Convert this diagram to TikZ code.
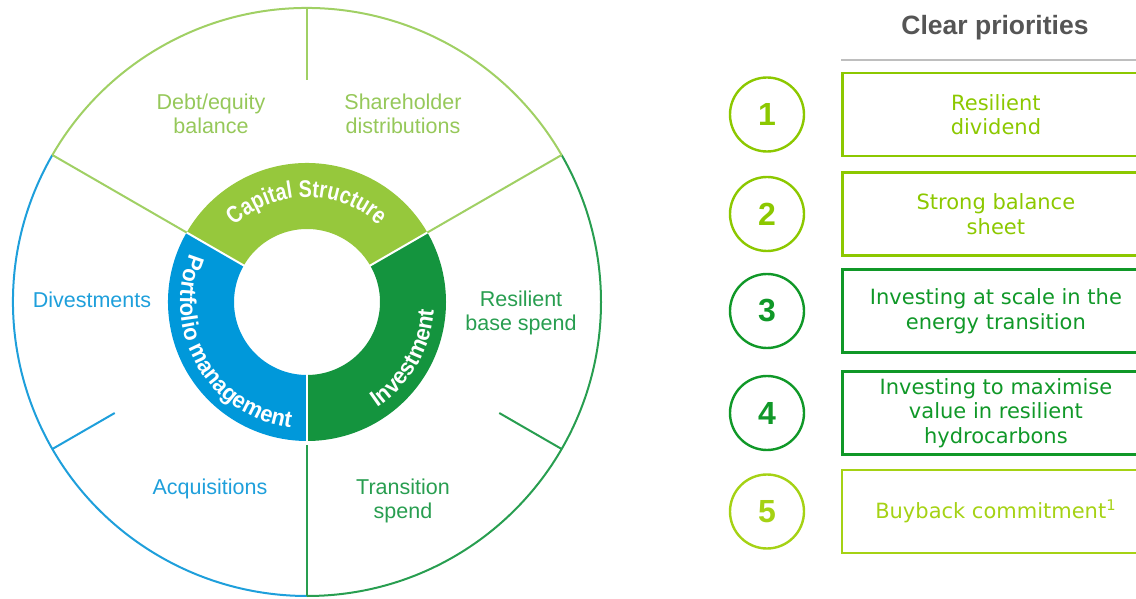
\documentclass[tikz,border=0pt]{standalone}
\usepackage{fontspec}
\setmainfont{Liberation Sans}
\newfontfamily\boxfont{DejaVu Sans}
\newfontfamily\donutfont{Liberation Sans}[FakeStretch=0.82]
\newfontfamily\donutwide{Liberation Sans}[FakeStretch=0.96]
\usetikzlibrary{decorations.text}
\definecolor{ringlg}{RGB}{160,208,100}
\definecolor{ringbl}{RGB}{30,159,219}
\definecolor{ringdg}{RGB}{40,158,80}
\definecolor{lbllg}{RGB}{150,200,90}
\definecolor{capfill}{RGB}{150,200,60}
\definecolor{pmfill}{RGB}{0,152,218}
\definecolor{invfill}{RGB}{20,148,62}
\definecolor{lime}{RGB}{140,200,0}
\definecolor{prgreen}{RGB}{16,152,40}
\definecolor{lime5}{RGB}{165,210,20}
\definecolor{titlegray}{RGB}{85,85,85}
\definecolor{rulegray}{RGB}{190,190,190}
\tikzset{
  ring/.style={line width=2pt},
  sep/.style={white, line width=2pt},
  lbl/.style={align=center, inner sep=0pt, font=\fontsize{21.5}{24}\selectfont},
  prio/.style={draw, line width=2.8pt, minimum width=307pt, minimum height=83pt,
    anchor=west, align=center, inner sep=0pt, font=\boxfont\fontsize{21}{24.5}\selectfont},
  num/.style={circle, draw, line width=2.4pt, minimum size=74pt, inner sep=0pt,
    font=\bfseries\fontsize{32}{32}\selectfont}
}
\begin{document}
\begin{tikzpicture}[x=1pt,y=1pt]
\useasboundingbox (0,0) rectangle (1136,598);
\clip (0,0) rectangle (1136,598);

\begin{scope}[shift={(307,296)}]
  % donut segments
  \fill[capfill] (30:139) arc[start angle=30,end angle=150,radius=139]
     -- (150:73) arc[start angle=150,end angle=30,radius=73] -- cycle;
  \fill[pmfill] (150:139) arc[start angle=150,end angle=270,radius=139]
     -- (270:73) arc[start angle=270,end angle=150,radius=73] -- cycle;
  \fill[invfill] (270:139) arc[start angle=270,end angle=390,radius=139]
     -- (30:73) arc[start angle=390,end angle=270,radius=73] -- cycle;
  \coordinate (s30a) at (30:72);  \coordinate (s30b) at (30:140);
  \coordinate (s150a) at (150:72); \coordinate (s150b) at (150:140);
  \coordinate (s270a) at (270:72); \coordinate (s270b) at (270:140);
  \draw[sep] (s30a) -- (s30b);
  \draw[sep] (s150a) -- (s150b);
  \draw[sep] (s270a) -- (s270b);

  % outer ring
  \draw[ring, ringlg] (30:294) arc[start angle=30,end angle=150,radius=294];
  \draw[ring, ringbl] (150:294) arc[start angle=150,end angle=270,radius=294];
  \draw[ring, ringdg] (270:294) arc[start angle=270,end angle=390,radius=294];

  % radial lines
  \coordinate (i30) at (30:139);   \coordinate (o30) at (30:294);
  \coordinate (i150) at (150:139); \coordinate (o150) at (150:294);
  \coordinate (i270) at (270:143); \coordinate (o270) at (270:294);
  \coordinate (t90) at (90:222);   \coordinate (o90) at (90:294);
  \coordinate (t210) at (210:222); \coordinate (o210) at (210:294);
  \coordinate (t330) at (330:222); \coordinate (o330) at (330:294);
  \draw[ring, ringlg] (i30) -- (o30);
  \draw[ring, ringlg] (i150) -- (o150);
  \draw[ring, ringdg] (i270) -- (o270);
  \draw[ring, ringlg] (t90) -- (o90);
  \draw[ring, ringbl] (t210) -- (o210);
  \draw[ring, ringdg] (t330) -- (o330);

  % donut text
  \path[decorate, decoration={text along path, text align=center, text color=white,
     text={|\donutfont\bfseries\fontsize{24}{28}\selectfont|Capital Structure}}]
     (150:105) arc[start angle=150,end angle=30,radius=105];
  \path[decorate, decoration={text along path, text align=center, text color=white,
     text={|\donutwide\bfseries\fontsize{23}{28}\selectfont|Portfolio management}}]
     (150:127) arc[start angle=150,end angle=270,radius=127];
  \path[decorate, decoration={text along path, text align=center, text color=white,
     text={|\donutwide\bfseries\fontsize{23}{28}\selectfont|Investment}}]
     (270:127) arc[start angle=270,end angle=390,radius=127];
\end{scope}

% outer labels
\node[lbl, text=lbllg] (debt) at (211,484.5) {Debt/equity\\balance};
\node[lbl, text=lbllg] (share) at (403,484.5) {Shareholder\\distributions};
\node[lbl, text=ringbl] (divest) at (92,298) {Divestments};
\node[lbl, text=ringdg] (rbase) at (521,285.5) {Resilient\\base spend};
\node[lbl, text=ringbl] (acq) at (210,109) {Acquisitions};
\node[lbl, text=ringdg] (trans) at (403,97) {Transition\\spend};

% right panel
\node[font=\bfseries\fontsize{26.5}{26.5}\selectfont, text=titlegray] (title) at (995,570) {Clear priorities};
\coordinate (rulel) at (841,538);
\coordinate (ruler) at (1136,538);
\draw[rulegray, line width=2pt] (rulel) -- (ruler);

\node[prio, draw=lime, text=lime] (b1) at (841,483.5) {Resilient\\dividend};
\node[prio, draw=lime, text=lime] (b2) at (841,384) {Strong balance\\sheet};
\node[prio, draw=prgreen, text=prgreen] (b3) at (841,287) {Investing at scale in the\\energy transition};
\node[prio, draw=prgreen, text=prgreen] (b4) at (841,185) {Investing to maximise\\value in resilient\\hydrocarbons};
\node[prio, draw=lime5, text=lime5, line width=2.4pt] (b5) at (841,86.5) {Buyback commitment\textsuperscript{1}};

\node[num, draw=lime, text=lime] (n1) at (767,483.5) {1};
\node[num, draw=lime, text=lime] (n2) at (767,384) {2};
\node[num, draw=prgreen, text=prgreen] (n3) at (767,287) {3};
\node[num, draw=prgreen, text=prgreen] (n4) at (767,185) {4};
\node[num, draw=lime5, text=lime5] (n5) at (767,86.5) {5};
\end{tikzpicture}
\end{document}
